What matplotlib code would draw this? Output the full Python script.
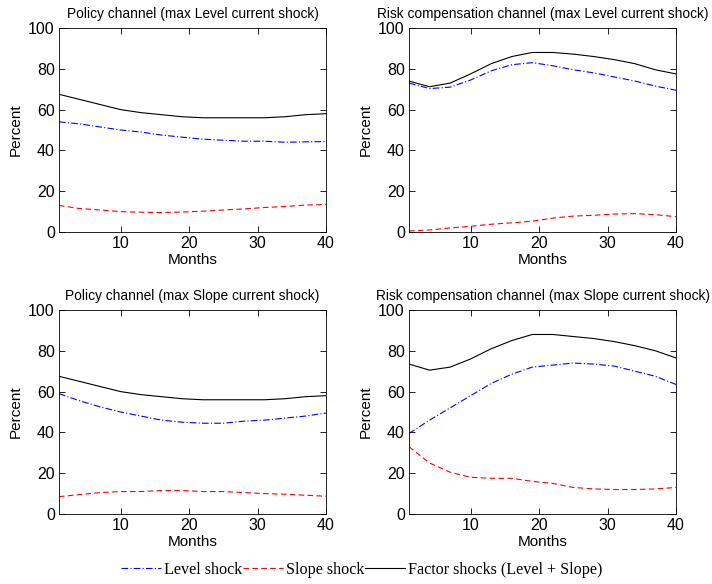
import matplotlib
matplotlib.use("Agg")
import matplotlib.pyplot as plt
from matplotlib.lines import Line2D

months = [1, 4, 7, 10, 13, 16, 19, 22, 25, 28, 31, 34, 37, 40]

# Policy channel (max Level current shock)
pl_level = [54, 53, 51.5, 50, 49, 47.5, 46.5, 45.5, 45, 44.5, 44.5, 44, 44.2, 44.3]
pl_slope = [13, 11.5, 10.8, 10, 9.7, 9.5, 9.8, 10.2, 10.8, 11.3, 12, 12.5, 13.2, 13.5]
pl_factor = [67.5, 65, 62.5, 60, 58.5, 57.5, 56.5, 56, 56, 56, 56, 56.5, 57.5, 58]

# Risk compensation channel (max Level current shock)
rl_level = [73, 70.3, 71, 74.5, 79, 82, 83, 81.5, 79.5, 78, 76, 74, 71.5, 69.5]
rl_slope = [0.5, 1, 2, 2.8, 3.8, 4.5, 5.3, 6.8, 7.8, 8.2, 8.8, 9, 8.5, 7.5]
rl_factor = [74, 71.2, 73, 77.5, 82.5, 86, 88, 88, 87.2, 86, 84.5, 82.5, 79.5, 77.5]

# Policy channel (max Slope current shock)
ps_level = [59, 55.5, 52.5, 50, 48, 46, 45, 44.5, 44.5, 45.5, 46, 47, 48, 49.5]
ps_slope = [8.5, 9.5, 10.5, 11, 11, 11.5, 11.5, 11, 11, 10.5, 10, 9.7, 9.2, 8.7]
ps_factor = [67.5, 65, 62.5, 60, 58.5, 57.5, 56.5, 56, 56, 56, 56, 56.5, 57.5, 58]

# Risk compensation channel (max Slope current shock)
rs_level = [39.5, 46, 52, 58, 64, 68.5, 72, 73, 74, 73.5, 72.5, 70, 67.5, 63.5]
rs_slope = [33, 25, 20.5, 18, 17.5, 17.5, 16, 15, 13, 12.3, 12, 12, 12.3, 13]
rs_factor = [73.5, 70.5, 72, 76, 81, 85, 88, 88, 87, 86, 84.5, 82.5, 80, 76.5]

titles = ["Policy channel (max Level current shock)",
          "Risk compensation channel (max Level current shock)",
          "Policy channel (max Slope current shock)",
          "Risk compensation channel (max Slope current shock)"]
panels = [(pl_level, pl_slope, pl_factor), (rl_level, rl_slope, rl_factor),
          (ps_level, ps_slope, ps_factor), (rs_level, rs_slope, rs_factor)]
legend_labels = ["Level shock", "Slope shock", "Factor shocks (Level + Slope)"]
x_ticks = [10, 20, 30, 40]
y_ticks = [0, 20, 40, 60, 80, 100]

plt.rcParams['font.family'] = ['Liberation Sans', 'DejaVu Sans']
fig = plt.figure(figsize=(7.12, 5.84), dpi=100)

W, H = 712, 584
positions = [(59, 28), (409, 28), (59, 310), (409, 310)]
aw, ah = 267, 204

for (px, py), title, (lv, sl, fa) in zip(positions, titles, panels):
    ax = fig.add_axes([px / W, 1 - (py + ah) / H, aw / W, ah / H])
    ax.plot(months, lv, color=(0, 0, 1), ls='-.', lw=0.8, dashes=(6, 2, 1, 2))
    ax.plot(months, sl, color=(1, 0, 0), ls='--', lw=0.8, dashes=(5, 3))
    ax.plot(months, fa, color='black', ls='-', lw=0.8)
    ax.set_xlim(1, 40)
    ax.set_ylim(0, 100)
    ax.set_xticks(x_ticks)
    ax.set_yticks(y_ticks)
    ax.tick_params(direction='in', top=True, right=True, length=4,
                   labelsize=11.5, width=0.6, pad=3)
    for s in ax.spines.values():
        s.set_linewidth(0.6)
    ax.set_title(title, fontsize=9.9, pad=7)
    ax.set_xlabel("Months", fontsize=11, labelpad=1)
    ax.set_ylabel("Percent", fontsize=11, labelpad=4)

handles = [Line2D([], [], color=(0, 0, 1), ls='-.', lw=0.8, dashes=(6, 2, 1, 2)),
           Line2D([], [], color=(1, 0, 0), ls='--', lw=0.8, dashes=(5, 3)),
           Line2D([], [], color='black', ls='-', lw=0.8)]
fig.legend(handles, legend_labels, loc='center', bbox_to_anchor=(0.508, 1 - 570 / H),
           ncol=3, frameon=False, columnspacing=0.0, handletextpad=0.2,
           handlelength=2.5, prop={'family': 'Liberation Serif', 'size': 11.6})

fig.savefig("out.png", dpi=100)
